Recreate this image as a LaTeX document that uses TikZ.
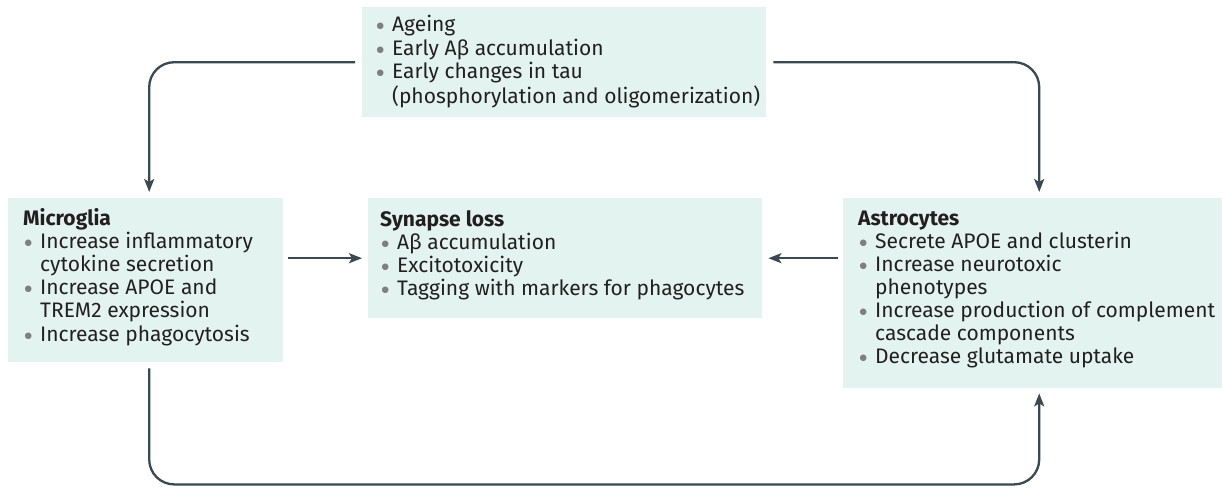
\documentclass[tikz,border=0pt]{standalone}
\usepackage{fontspec}
\setmainfont{Fira Sans}
\newfontfamily\symfont{DejaVu Sans}
\usetikzlibrary{arrows.meta}
\definecolor{boxfill}{HTML}{E3F4F0}
\definecolor{txt}{HTML}{231F20}
\definecolor{arrcol}{HTML}{3A4850}
\definecolor{bulcol}{HTML}{7F7F7F}
\newcommand\bul{\makebox[17pt][l]{\hspace{1.5pt}\raisebox{3pt}{\textcolor{bulcol}{\symfont\fontsize{8.5}{9}\selectfont ●}}}}
\newcommand\nob{\makebox[17pt]{}}
\begin{document}
\begin{tikzpicture}[x=1pt,y=-1pt,
  panel/.style={fill=boxfill, draw=none, inner sep=0pt, anchor=north west},
  label/.style={anchor=base west, inner sep=0pt, text=txt, font=\fontsize{21}{23}\selectfont},
  arr/.style={draw=arrcol, line width=2.3pt, -{Stealth[length=13pt,width=10pt,inset=3pt]}, rounded corners=25pt}]
\useasboundingbox (0,0) rectangle (1228,487);
% panels
\node[panel, minimum width=404pt, minimum height=110pt] (top) at (362,7) {};
\node[panel, minimum width=275pt, minimum height=164pt] (micro) at (8,198) {};
\node[panel, minimum width=394pt, minimum height=120pt] (syn) at (368,198) {};
\node[panel, minimum width=379pt, minimum height=190pt] (astro) at (843,198) {};
% texts
\node[label] (topt) at (375,32) {\begin{tabular}[t]{@{}l@{}l@{}}
\bul & Ageing\\
\bul & Early Aβ accumulation\\
\bul & Early changes in tau\\
\nob & (phosphorylation and oligomerization)\end{tabular}};
\node[label] (microt) at (23,225) {\begin{tabular}[t]{@{}l@{}l@{}}
\multicolumn{2}{@{}l@{}}{\bfseries Microglia}\\
\bul & Increase inflammatory\\
\nob & cytokine secretion\\
\bul & Increase APOE and\\
\nob & TREM2 expression\\
\bul & Increase phagocytosis\end{tabular}};
\node[label] (synt) at (380,226) {\begin{tabular}[t]{@{}l@{}l@{}}
\multicolumn{2}{@{}l@{}}{\bfseries Synapse loss}\\
\bul & Aβ accumulation\\
\bul & Excitotoxicity\\
\bul & Tagging with markers for phagocytes\end{tabular}};
\node[label] (astrot) at (858,225) {\begin{tabular}[t]{@{}l@{}l@{}}
\multicolumn{2}{@{}l@{}}{\bfseries Astrocytes}\\
\bul & Secrete APOE and clusterin\\
\bul & Increase neurotoxic\\
\nob & phenotypes\\
\bul & Increase production of complement\\
\nob & cascade components\\
\bul & Decrease glutamate uptake\end{tabular}};
% connectors
\draw[arr, shorten <=7pt, shorten >=6pt] (top.west) -| ([xshift=3.5pt]micro.north);
\draw[arr, shorten <=7pt, shorten >=6pt] (top.east) -| ([xshift=6.5pt]astro.north);
\draw[arr, shorten <=5pt, shorten >=6pt] (micro.east |- syn.west) -- (syn.west);
\draw[arr, shorten <=5pt, shorten >=6pt] (astro.west |- syn.east) -- (syn.east);
\draw[arr, shorten <=6pt, shorten >=5pt] ([xshift=3.5pt]micro.south) -- ++(0,122) -| ([xshift=6.5pt]astro.south);
\end{tikzpicture}
\end{document}
